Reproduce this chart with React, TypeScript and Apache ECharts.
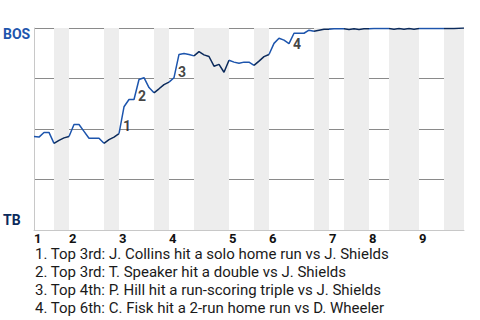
import React, { useEffect, useRef } from "react";
import * as echarts from "echarts";

// Win probability for BOS (0 = TB wins, 100 = BOS wins), one value per plate appearance boundary
const winProb = [
  46.3, 46.0, 48.3, 48.3, 42.9, 44.4, 45.6, 46.3, 52.2, 52.2,
  48.8, 45.4, 45.4, 45.4, 42.9, 44.7, 46.0, 47.7, 61.0, 64.6,
  64.6, 74.5, 75.4, 70.5, 67.9, 69.9, 72.0, 73.2, 75.4, 86.9,
  87.4, 86.9, 86.2, 88.3, 86.7, 85.9, 81.1, 82.0, 78.1, 84.0,
  83.1, 82.5, 83.1, 83.1, 81.5, 83.6, 85.8, 86.9, 92.4, 94.9,
  94.0, 92.3, 97.4, 97.4, 97.4, 98.9, 98.4, 98.9, 99.4, 99.4,
  99.6, 99.6, 99.6, 99.3, 99.6, 99.3, 99.6, 99.6, 99.7, 99.7,
  99.7, 99.7, 99.4, 99.7, 99.4, 99.7, 99.4, 99.8, 99.8, 99.8,
  99.8, 99.8, 99.8, 99.8, 99.8, 99.9, 100,
];

// Plate-appearance index at which each half inning starts (last = end of game)
const halfInningStarts = [0, 4, 7, 14, 17, 24, 27, 32, 39, 44, 47, 56, 59, 62, 67, 71, 77, 82, 86];

const inningLabels = ["1", "2", "3", "4", "5", "6", "7", "8", "9"];

// Index of the plate appearance before each key event
const eventIndex = [17, 20, 28, 51];
const eventText = [
  "1. Top 3rd: J. Collins hit a solo home run vs J. Shields",
  "2. Top 3rd: T. Speaker hit a double vs J. Shields",
  "3. Top 4th: P. Hill hit a run-scoring triple vs J. Shields",
  "4. Top 6th: C. Fisk hit a 2-run home run vs D. Wheeler",
];

const BOS_BLUE = "#1d55ad";
const TB_NAVY = "#0b2a5b";
const FONT = "Roboto, 'Noto Sans', sans-serif";

export default function App() {
  const ref = useRef<HTMLDivElement>(null);

  useEffect(() => {
    if (!ref.current) return;
    const chart = echarts.init(ref.current, undefined, { renderer: "svg" });

    const segSeries: any[] = [];
    for (let i = 0; i < halfInningStarts.length - 1; i++) {
      const s = halfInningStarts[i];
      const e = halfInningStarts[i + 1];
      const data: number[][] = [];
      for (let t = s; t <= e; t++) data.push([t, winProb[t]]);
      segSeries.push({
        type: "line",
        data,
        symbol: "none",
        silent: true,
        z: 3,
        lineStyle: { color: i % 2 === 0 ? BOS_BLUE : TB_NAVY, width: 1.5 },
      });
    }

    const bands: any[] = [];
    for (let i = 1; i < halfInningStarts.length - 1; i += 2) {
      bands.push([{ xAxis: halfInningStarts[i] }, { xAxis: halfInningStarts[i + 1] }]);
    }

    const topStarts = halfInningStarts.filter((_, i) => i % 2 === 0).slice(0, inningLabels.length);

    const eventPoints = eventIndex.map((t, k) => ({
      value: [t + 0.5, (winProb[t] + winProb[t + 1]) / 2],
      name: String(k + 1),
    }));

    chart.setOption({
      animation: false,
      grid: { left: 34, right: 16, top: 28, bottom: 90 },
      xAxis: {
        type: "value",
        min: 0,
        max: halfInningStarts[halfInningStarts.length - 1],
        axisLine: { show: true, lineStyle: { color: "#c8c8c8", width: 1 } },
        axisTick: { show: false },
        splitLine: { show: false },
        axisLabel: {
          customValues: topStarts,
          formatter: (v: number) => {
            const idx = topStarts.indexOf(v);
            return idx >= 0 ? inningLabels[idx] : "";
          },
          align: "left",
          margin: 2,
          fontFamily: FONT,
          fontSize: 13,
          fontWeight: "bold",
          color: "#111",
          showMinLabel: true,
          showMaxLabel: true,
        },
      },
      yAxis: {
        type: "value",
        min: 0,
        max: 100,
        interval: 25,
        axisLabel: { show: false },
        axisTick: { show: false },
        axisLine: { show: true, lineStyle: { color: "#c8c8c8", width: 1 } },
        splitLine: { show: true, showMinLine: false, lineStyle: { color: "#8a8a8a", width: 1 } },
      },
      series: [
        {
          type: "line",
          data: [],
          silent: true,
          z: 1,
          markArea: {
            silent: true,
            itemStyle: { color: "#ededed" },
            data: bands,
          },
        },
        ...segSeries,
        {
          type: "scatter",
          data: eventPoints,
          symbolSize: 1,
          silent: true,
          z: 5,
          itemStyle: { color: "rgba(0,0,0,0)" },
          label: {
            show: true,
            position: "inside",
            offset: [5.5, 6],
            formatter: (p: any) => p.name,
            fontFamily: FONT,
            fontSize: 14,
            fontWeight: "bold",
            color: "#111",
          },
        },
      ],
      graphic: [
        {
          type: "text",
          left: 3,
          top: 27,
          style: { text: "BOS", fill: BOS_BLUE, font: `bold 14px ${FONT}` },
        },
        {
          type: "text",
          left: 3,
          top: 213,
          style: { text: "TB", fill: TB_NAVY, font: `bold 14px ${FONT}` },
        },
        ...eventText.map((txt, i) => ({
          type: "text",
          x: 35,
          y: 253.5 + i * 18,
          style: {
            text: txt,
            fill: "#1a1a1a",
            font: `15px ${FONT}`,
            textVerticalAlign: "middle",
          },
        })),
      ],
    });

    return () => chart.dispose();
  }, []);

  return (
    <div
      ref={ref}
      style={{ position: "absolute", left: 0, top: 0, width: 480, height: 320 }}
    />
  );
}
